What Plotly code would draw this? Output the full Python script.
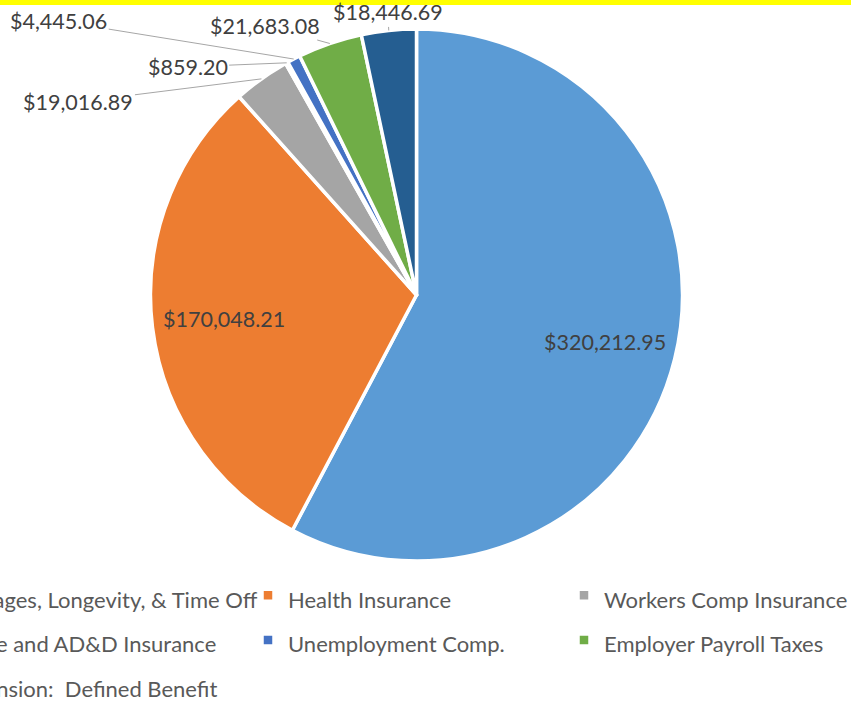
import numpy as np
import plotly.graph_objects as go

# ---- data ----
labels = ["Wages, Longevity, & Time Off", "Health Insurance", "Workers Comp Insurance",
          "Life and AD&D Insurance", "Unemployment Comp.", "Employer Payroll Taxes",
          "Pension:\u00a0 Defined Benefit"]
values = [320212.95, 170048.21, 19016.89, 859.20, 4445.06, 21683.08, 18446.69]
colors = ["#5B9BD5", "#ED7D31", "#A5A5A5", "#FFC000", "#4472C4", "#70AD47", "#255E91"]

# ---- layout geometry (px) ----
W, H = 950, 704
BOTTOM = 136              # plot area ends above the legend
HP = H - BOTTOM           # paper height in px
cx, cy, R = 416.5, 295.0, 266.0
FONT = "Lato"

legend_labels = [f"<span style='font-size:22px'>{t}</span>" for t in labels]

fig = go.Figure(go.Pie(
    labels=legend_labels,
    values=values,
    sort=False,
    direction="clockwise",
    rotation=0,
    marker=dict(colors=colors, line=dict(color="white", width=3.5)),
    textposition="none",
    hovertemplate="%{label}: $%{value:,.2f}<extra></extra>",
    domain=dict(x=[(cx - R) / W, (cx + R) / W], y=[1 - (cy + R) / HP, 1 - (cy - R) / HP]),
))

# ---- data labels, positioned from slice angles ----
vals = np.array(values)
total = vals.sum()
mid = (np.cumsum(vals) - vals / 2) / total * 2 * np.pi  # clockwise from 12 o'clock

inside = {0: 0.73, 1: 0.73}
# pixel offsets of label text from the slice edge (leader lines)
offsets = {2: (-183, 23), 3: (-99, 4), 4: (-235, -38), 5: (-65, -18), 6: (-1, -18)}

LBL_FONT = dict(family=FONT, size=21.5, color="#404040")
annotations = []
for i, v in enumerate(values):
    txt = f"${v:,.2f}"
    if i in inside:
        r = inside[i] * R
        px, py = cx + r * np.sin(mid[i]), cy - r * np.cos(mid[i])
        annotations.append(dict(x=px / W, y=1 - py / HP, xref="paper", yref="paper",
                                xanchor="center", yanchor="middle",
                                text=txt, showarrow=False, font=LBL_FONT))
    else:
        px, py = cx + R * np.sin(mid[i]), cy - R * np.cos(mid[i])
        ax, ay = offsets[i]
        annotations.append(dict(x=px / W, y=1 - py / HP, xref="paper", yref="paper",
                                text=txt, showarrow=True, arrowhead=0, arrowwidth=1,
                                arrowcolor="#A6A6A6", ax=ax, ay=ay, font=LBL_FONT))

fig.update_layout(
    width=W, height=H,
    margin=dict(l=0, r=0, t=0, b=BOTTOM, pad=0, autoexpand=False),
    paper_bgcolor="white",
    plot_bgcolor="white",
    font=dict(family=FONT, color="#595959"),
    showlegend=True,
    legend=dict(orientation="h", x=-68 / W, xanchor="left", y=0, yanchor="top",
                font=dict(family=FONT, size=32, color="#595959"),
                entrywidth=271, entrywidthmode="pixels",
                traceorder="normal", bgcolor="rgba(0,0,0,0)", borderwidth=0),
    annotations=annotations,
    shapes=[dict(type="rect", xref="paper", yref="paper", x0=0, x1=1,
                 y0=1 - 5 / HP, y1=1, fillcolor="#FFFF00", line=dict(width=0), layer="above")],
)

fig.write_html("out.html",
               post_script="document.body.style.margin='0';document.body.style.overflow='hidden';")
